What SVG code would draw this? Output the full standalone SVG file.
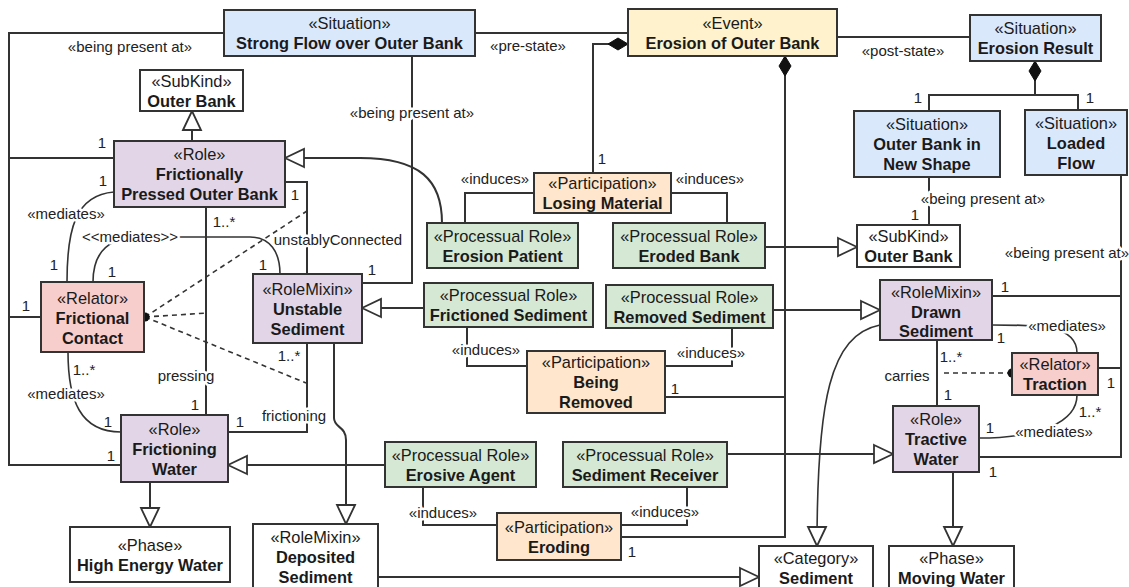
<svg xmlns="http://www.w3.org/2000/svg" width="1129" height="587" viewBox="0 0 1129 587">
<style>
  text { font-family: "Liberation Sans", Arial, sans-serif; fill: #1a1a1a; }
  .st { font-size: 16.4px; text-anchor: middle; }
  .tt { font-size: 16.4px; font-weight: bold; text-anchor: middle; }
  .box { stroke: #333; stroke-width: 2; }
  .sit { fill: #dae8fc; }
  .evt { fill: #fff2cc; }
  .role { fill: #e1d5e7; }
  .rel { fill: #f8cecc; }
  .proc { fill: #d5e8d4; }
  .part { fill: #ffe6cc; }
  .plain { fill: #ffffff; }
  .ln { fill: none; stroke: #333; stroke-width: 2; }
  .cv { fill: none; stroke: #333; stroke-width: 1.6; }
  .ds { fill: none; stroke: #333; stroke-width: 1.6; stroke-dasharray: 5 4; }
  .lb { font-size: 15px; text-anchor: middle; fill: #222; }
  .halo { stroke: #fff; stroke-width: 5; paint-order: stroke; stroke-linejoin: round; }
</style>
<defs>
  <marker id="gen" markerUnits="userSpaceOnUse" viewBox="-2 -2 23 22" markerWidth="23" markerHeight="22" refX="19" refY="9" orient="auto">
    <path d="M0,0 L19,9 L0,18 Z" fill="#fff" stroke="#333" stroke-width="1.8"/>
  </marker>
  <marker id="dia" markerUnits="userSpaceOnUse" viewBox="-1 -1 22 14" markerWidth="22" markerHeight="14" refX="0" refY="6" orient="auto">
    <path d="M0,6 L10,0 L20,6 L10,12 Z" fill="#111" stroke="#111" stroke-width="1"/>
  </marker>
</defs>

<rect width="1129" height="587" fill="#ffffff"/>

<g id="connectors">
  <!-- situation links -->
  <path class="ln" d="M224,33 H9 V465 H121 M9,158 H114 M9,317 H41"/>
  <path class="ln" d="M412,56 V283 H362"/>
  <path class="ln" d="M475,33 H628"/>
  <path class="ln" d="M837,37 H970"/>
  <path class="ln" d="M929,177 V225"/>
  <path class="ln" d="M1121,175 V457 H979 M1121,296 H992 M1121,368 H1098"/>
  <!-- compositions -->
  <path class="ln" marker-start="url(#dia)" d="M628,44 H593 V173"/>
  <path class="ln" marker-start="url(#dia)" d="M1035,61 V95 M929,111 V95 H1078 V110"/>
  <path class="ln" marker-start="url(#dia)" d="M785,56 V537 H621 M785,397 H665"/>
  <!-- induces -->
  <path class="ln" d="M534,193 H465 V223 M671,193 H727 V223"/>
  <path class="ln" d="M467,327 V366 H527 M732,328 V366 H665"/>
  <path class="ln" d="M423,487 V525 H497 M687,487 V525 H621"/>
  <!-- generalizations -->
  <path class="ln" marker-end="url(#gen)" d="M192,141 V111"/>
  <path class="ln" marker-end="url(#gen)" d="M442,223 C442,180 420,158 360,158 L285,158"/>
  <path class="ln" marker-end="url(#gen)" d="M424,308 H362"/>
  <path class="ln" marker-end="url(#gen)" d="M765,247 H857"/>
  <path class="ln" marker-end="url(#gen)" d="M773,310 H880"/>
  <path class="ln" marker-end="url(#gen)" d="M385,465 H228"/>
  <path class="ln" marker-end="url(#gen)" d="M727,454 H893"/>
  <path class="ln" marker-end="url(#gen)" d="M150,482 V527"/>
  <path class="ln" marker-end="url(#gen)" d="M953,472 V546"/>
  <path class="ln" marker-end="url(#gen)" d="M378,577 H759"/>
  <path class="ln" marker-end="url(#gen)" d="M334,343 V418 C334,428 346,426 346,440 V524"/>
  <path class="cv" marker-end="url(#gen)" d="M880,325 C830,335 817,400 817,546"/>
  <!-- material associations -->
  <path class="ln" d="M206,207 V415"/>
  <path class="ln" d="M285,182 H307 V274"/>
  <path class="ln" d="M307,343 V432 H228"/>
  <path class="ln" d="M937,340 V406"/>
  <!-- mediations -->
  <path class="cv" d="M67,282 C67,230 75,195 114,192"/>
  <path class="cv" d="M68,352 C68,400 80,432 121,432"/>
  <path class="cv" d="M93,282 C93,255 105,237 140,237 L250,237 C270,237 280,252 280,274"/>
  <path class="cv" d="M992,325 C1040,325 1077,325 1077,353"/>
  <path class="cv" d="M1077,395 C1077,422 1040,438 979,438"/>
  <!-- derivations -->
  <path class="ds" d="M145,317 L307,211 M145,317 L207,313 M145,317 L306,383"/>
  <circle cx="145" cy="317" r="4.5" fill="#111"/>
  <path class="ds" d="M1012,373 H940"/>
  <circle cx="1012" cy="373" r="4.5" fill="#111"/>

  <!-- connector labels -->
  <text class="lb" x="130" y="52">«being present at»</text>
  <text class="lb halo" x="412" y="118">«being present at»</text>
  <text class="lb" x="528" y="51">«pre-state»</text>
  <text class="lb" x="903" y="56">«post-state»</text>
  <text class="lb halo" x="983" y="204">«being present at»</text>
  <text class="lb halo" x="1067" y="258">«being present at»</text>
  <text class="lb" x="495" y="184">«induces»</text>
  <text class="lb" x="710" y="184">«induces»</text>
  <text class="lb halo" x="486" y="355">«induces»</text>
  <text class="lb halo" x="711" y="358">«induces»</text>
  <text class="lb halo" x="443" y="518">«induces»</text>
  <text class="lb halo" x="665" y="517">«induces»</text>
  <text class="lb halo" x="66" y="219">«mediates»</text>
  <text class="lb halo" x="66" y="399">«mediates»</text>
  <text class="lb halo" x="130" y="242">&lt;&lt;mediates&gt;&gt;</text>
  <text class="lb halo" x="338" y="245">unstablyConnected</text>
  <text class="lb halo" x="186" y="381">pressing</text>
  <text class="lb halo" x="294" y="421">frictioning</text>
  <text class="lb" x="907" y="381">carries</text>
  <text class="lb halo" x="1067" y="331">«mediates»</text>
  <text class="lb halo" x="1054" y="437">«mediates»</text>

  <!-- multiplicities -->
  <text class="lb" x="102" y="148">1</text>
  <text class="lb" x="103" y="186">1</text>
  <text class="lb" x="26" y="311">1</text>
  <text class="lb" x="54" y="270">1</text>
  <text class="lb" x="112" y="277">1</text>
  <text class="lb" x="263" y="270">1</text>
  <text class="lb" x="372" y="275">1</text>
  <text class="lb" x="295" y="200">1</text>
  <text class="lb" x="224" y="227">1..*</text>
  <text class="lb" x="289" y="361">1..*</text>
  <text class="lb" x="84" y="375">1..*</text>
  <text class="lb" x="108" y="427">1</text>
  <text class="lb" x="111" y="461">1</text>
  <text class="lb" x="195" y="410">1</text>
  <text class="lb" x="240" y="427">1</text>
  <text class="lb" x="602" y="164">1</text>
  <text class="lb" x="675" y="394">1</text>
  <text class="lb" x="632" y="557">1</text>
  <text class="lb" x="918" y="103">1</text>
  <text class="lb" x="1090" y="103">1</text>
  <text class="lb" x="915" y="220">1</text>
  <text class="lb" x="1005" y="292">1</text>
  <text class="lb" x="1001" y="343">1</text>
  <text class="lb" x="951" y="362">1..*</text>
  <text class="lb" x="948" y="400">1</text>
  <text class="lb" x="1111" y="388">1</text>
  <text class="lb" x="1090" y="417">1..*</text>
  <text class="lb" x="990" y="433">1</text>
  <text class="lb" x="993" y="477">1</text>
</g>

<g id="strong-flow">
  <rect class="box sit" x="224" y="10" width="251" height="46"/>
  <text class="st" x="349.5" y="29">«Situation»</text>
  <text class="tt" x="349.5" y="49">Strong Flow over Outer Bank</text>
</g>
<g id="erosion-event">
  <rect class="box evt" x="628" y="9" width="209" height="47"/>
  <text class="st" x="732.5" y="28.5">«Event»</text>
  <text class="tt" x="732.5" y="48.5">Erosion of Outer Bank</text>
</g>
<g id="erosion-result">
  <rect class="box sit" x="970" y="15" width="131" height="46"/>
  <text class="st" x="1035.5" y="34">«Situation»</text>
  <text class="tt" x="1035.5" y="54">Erosion Result</text>
</g>
<g id="outer-bank-left">
  <rect class="box plain" x="140" y="70" width="103" height="41"/>
  <text class="st" x="191.5" y="86.5">«SubKind»</text>
  <text class="tt" x="191.5" y="106.5">Outer Bank</text>
</g>
<g id="pressed-outer-bank">
  <rect class="box role" x="114" y="141" width="171" height="66"/>
  <text class="st" x="199.5" y="160">«Role»</text>
  <text class="tt" x="199.5" y="180">Frictionally</text>
  <text class="tt" x="199.5" y="200">Pressed Outer Bank</text>
</g>
<g id="outer-bank-new-shape">
  <rect class="box sit" x="854" y="111" width="146" height="66"/>
  <text class="st" x="927" y="130">«Situation»</text>
  <text class="tt" x="927" y="150">Outer Bank in</text>
  <text class="tt" x="927" y="170">New Shape</text>
</g>
<g id="loaded-flow">
  <rect class="box sit" x="1025" y="110" width="102" height="65"/>
  <text class="st" x="1076" y="128.5">«Situation»</text>
  <text class="tt" x="1076" y="148.5">Loaded</text>
  <text class="tt" x="1076" y="168.5">Flow</text>
</g>
<g id="losing-material">
  <rect class="box part" x="534" y="173" width="137" height="40"/>
  <text class="st" x="602.5" y="189">«Participation»</text>
  <text class="tt" x="602.5" y="209">Losing Material</text>
</g>
<g id="erosion-patient">
  <rect class="box proc" x="427" y="223" width="151" height="45"/>
  <text class="st" x="502.5" y="241.5">«Processual Role»</text>
  <text class="tt" x="502.5" y="261.5">Erosion Patient</text>
</g>
<g id="eroded-bank">
  <rect class="box proc" x="613" y="223" width="152" height="45"/>
  <text class="st" x="689" y="241.5">«Processual Role»</text>
  <text class="tt" x="689" y="261.5">Eroded Bank</text>
</g>
<g id="outer-bank-right">
  <rect class="box plain" x="857" y="225" width="103" height="42"/>
  <text class="st" x="908.5" y="242">«SubKind»</text>
  <text class="tt" x="908.5" y="262">Outer Bank</text>
</g>
<g id="frictional-contact">
  <rect class="box rel" x="41" y="282" width="103" height="70"/>
  <text class="st" x="92.5" y="304">«Relator»</text>
  <text class="tt" x="92.5" y="324">Frictional</text>
  <text class="tt" x="92.5" y="344">Contact</text>
</g>
<g id="unstable-sediment">
  <rect class="box role" x="253" y="274" width="109" height="69"/>
  <text class="st" x="307.5" y="294.5">«RoleMixin»</text>
  <text class="tt" x="307.5" y="314.5">Unstable</text>
  <text class="tt" x="307.5" y="334.5">Sediment</text>
</g>
<g id="frictioned-sediment">
  <rect class="box proc" x="424" y="283" width="169" height="44"/>
  <text class="st" x="508.5" y="301">«Processual Role»</text>
  <text class="tt" x="508.5" y="321">Frictioned Sediment</text>
</g>
<g id="removed-sediment">
  <rect class="box proc" x="606" y="285" width="167" height="43"/>
  <text class="st" x="689.5" y="302.5">«Processual Role»</text>
  <text class="tt" x="689.5" y="322.5">Removed Sediment</text>
</g>
<g id="drawn-sediment">
  <rect class="box role" x="880" y="280" width="112" height="60"/>
  <text class="st" x="936" y="297.5">«RoleMixin»</text>
  <text class="tt" x="936" y="317.5">Drawn</text>
  <text class="tt" x="936" y="337">Sediment</text>
</g>
<g id="being-removed">
  <rect class="box part" x="527" y="351" width="138" height="62"/>
  <text class="st" x="596" y="368">«Participation»</text>
  <text class="tt" x="596" y="388">Being</text>
  <text class="tt" x="596" y="408">Removed</text>
</g>
<g id="traction">
  <rect class="box rel" x="1012" y="353" width="86" height="42"/>
  <text class="st" x="1055" y="370">«Relator»</text>
  <text class="tt" x="1055" y="390">Traction</text>
</g>
<g id="frictioning-water">
  <rect class="box role" x="121" y="415" width="107" height="67"/>
  <text class="st" x="174.5" y="435">«Role»</text>
  <text class="tt" x="174.5" y="455">Frictioning</text>
  <text class="tt" x="174.5" y="475">Water</text>
</g>
<g id="erosive-agent">
  <rect class="box proc" x="385" y="442" width="151" height="45"/>
  <text class="st" x="460.5" y="460.5">«Processual Role»</text>
  <text class="tt" x="460.5" y="480.5">Erosive Agent</text>
</g>
<g id="sediment-receiver">
  <rect class="box proc" x="563" y="442" width="164" height="45"/>
  <text class="st" x="645" y="460.5">«Processual Role»</text>
  <text class="tt" x="645" y="480.5">Sediment Receiver</text>
</g>
<g id="tractive-water">
  <rect class="box role" x="893" y="406" width="86" height="66"/>
  <text class="st" x="936" y="425">«Role»</text>
  <text class="tt" x="936" y="445">Tractive</text>
  <text class="tt" x="936" y="465">Water</text>
</g>
<g id="high-energy-water">
  <rect class="box plain" x="70" y="527" width="160" height="55"/>
  <text class="st" x="150" y="551">«Phase»</text>
  <text class="tt" x="150" y="571">High Energy Water</text>
</g>
<g id="deposited-sediment">
  <rect class="box plain" x="253" y="524" width="125" height="72"/>
  <text class="st" x="315.5" y="543">«RoleMixin»</text>
  <text class="tt" x="315.5" y="563">Deposited</text>
  <text class="tt" x="315.5" y="583">Sediment</text>
</g>
<g id="eroding">
  <rect class="box part" x="497" y="513" width="124" height="47"/>
  <text class="st" x="559" y="532.5">«Participation»</text>
  <text class="tt" x="559" y="552.5">Eroding</text>
</g>
<g id="sediment">
  <rect class="box plain" x="759" y="546" width="114" height="50"/>
  <text class="st" x="816" y="564">«Category»</text>
  <text class="tt" x="816" y="584">Sediment</text>
</g>
<g id="moving-water">
  <rect class="box plain" x="889" y="546" width="125" height="50"/>
  <text class="st" x="951.5" y="564">«Phase»</text>
  <text class="tt" x="951.5" y="584">Moving Water</text>
</g>
</svg>
